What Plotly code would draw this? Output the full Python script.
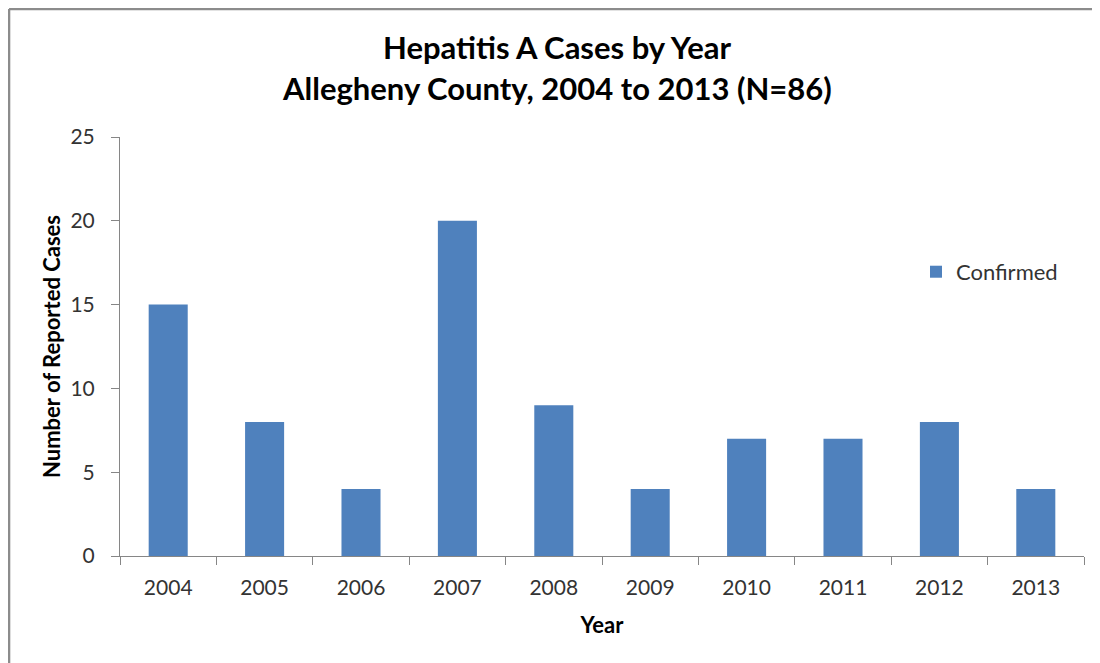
import plotly.graph_objects as go

years = ["2004", "2005", "2006", "2007", "2008", "2009", "2010", "2011", "2012", "2013"]
confirmed = [15, 8, 4, 20, 9, 4, 7, 7, 8, 4]

title_line1 = "Hepatitis A Cases by Year"
title_line2 = "Allegheny County, 2004 to 2013 (N=86)"

font_family = "Lato, Open Sans, sans-serif"
axis_gray = "#868686"
text_gray = "#333333"

fig = go.Figure()
fig.add_trace(go.Bar(
    x=years,
    y=confirmed,
    name="Confirmed",
    marker=dict(color="#4F81BD", line=dict(width=0)),
))

# the page body has an 8px margin, so the margins below are shifted by 8px
fig.update_layout(
    width=1100,
    height=663,
    margin=dict(l=112, r=24, t=129, b=115),
    paper_bgcolor="white",
    plot_bgcolor="white",
    bargap=0.595,
    font=dict(family=font_family, color=text_gray, size=21),
    showlegend=True,
    legend=dict(
        x=0.8257, y=0.678, xanchor="left", yanchor="middle",
        font=dict(size=22, color=text_gray),
        itemwidth=30, bgcolor="rgba(0,0,0,0)",
    ),
    xaxis=dict(
        showline=True, linecolor=axis_gray, linewidth=1,
        ticks="outside", tickson="boundaries", ticklen=8, tickcolor=axis_gray,
        ticklabelstandoff=13,
        showgrid=False,
        tickfont=dict(size=21, color=text_gray),
        title=dict(text="<b>Year</b>", font=dict(size=22, color="#000000"), standoff=19),
    ),
    yaxis=dict(
        range=[0, 25], dtick=5,
        showline=True, linecolor=axis_gray, linewidth=1,
        ticks="outside", ticklen=8, tickcolor=axis_gray,
        ticklabelstandoff=12,
        showgrid=False, zeroline=False,
        tickfont=dict(size=21, color=text_gray),
        title=dict(text="<b>Number of Reported Cases</b>", font=dict(size=22, color="#000000"), standoff=3),
    ),
    annotations=[
        dict(text="<b>" + title_line1 + "</b>", xref="paper", yref="paper",
             x=0.4538, y=1.2148, xanchor="center", yanchor="middle",
             showarrow=False, font=dict(size=31, color="#000000")),
        dict(text="<b>" + title_line2 + "</b>", xref="paper", yref="paper",
             x=0.4538, y=1.117, xanchor="center", yanchor="middle",
             showarrow=False, font=dict(size=31, color="#000000")),
    ],
    shapes=[
        dict(type="line", xref="paper", yref="paper", x0=-0.1151, x1=-0.1151, y0=-0.3, y1=1.3055,
             line=dict(color="#8c8c8c", width=2.5)),
        dict(type="line", xref="paper", yref="paper", x0=-0.1151, x1=1.1, y0=1.3055, y1=1.3055,
             line=dict(color="#8c8c8c", width=2.5)),
    ],
)

fig.write_html("out.html")
